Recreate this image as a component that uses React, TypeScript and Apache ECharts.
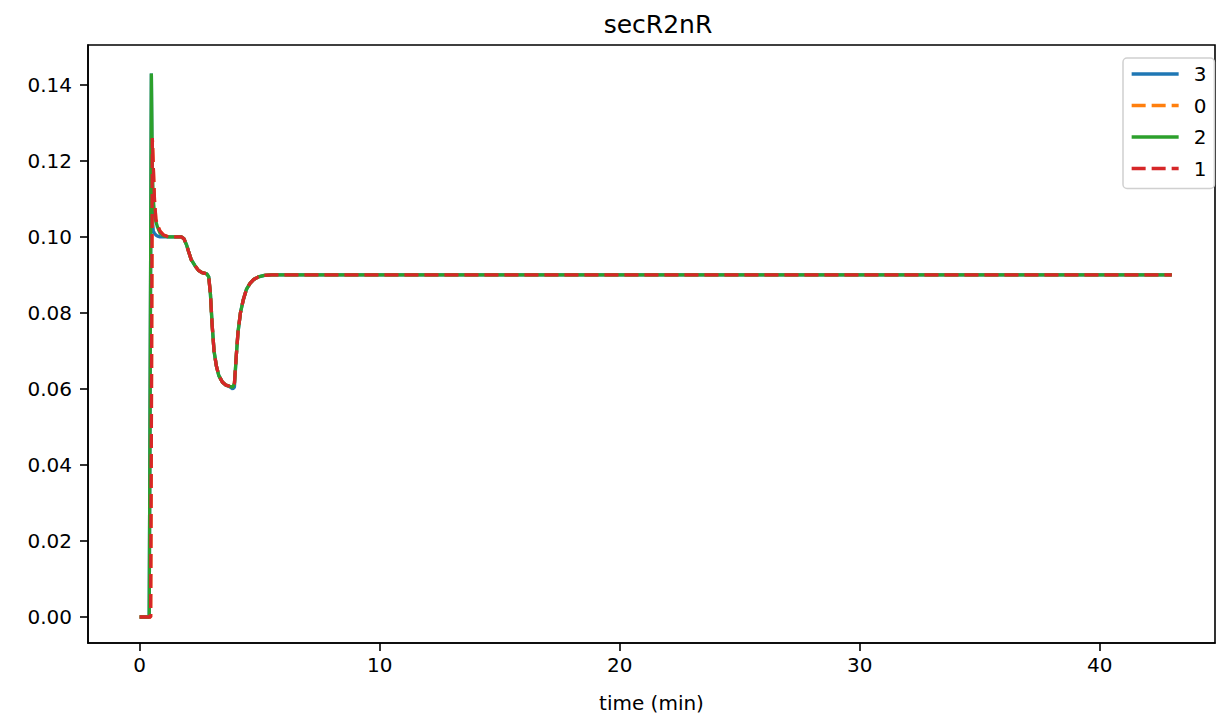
import React, { useEffect, useRef } from "react";
import * as echarts from "echarts";

const seriesNames = ["3", "0", "2", "1"];
const colors = ["#1f77b4", "#ff7f0e", "#2ca02c", "#d62728"];
const dashed = [false, true, false, true];

const time = [0, 0.40, 0.46, 0.49, 0.53, 0.57, 0.62, 0.68, 0.75, 0.85, 1.0, 1.2, 1.5, 1.75, 1.85, 1.95, 2.05, 2.15, 2.3, 2.45, 2.6, 2.8, 2.88, 2.95, 3.02, 3.1, 3.2, 3.3, 3.45, 3.6, 3.75, 3.88, 3.95, 4.03, 4.1, 4.2, 4.32, 4.45, 4.6, 4.75, 4.95, 5.2, 5.5, 43];

const s3 = [0, 0, 0.095, 0.143, 0.105, 0.1015, 0.101, 0.1005, 0.1002, 0.1, 0.1, 0.1, 0.1, 0.1, 0.0995, 0.098, 0.096, 0.094, 0.0925, 0.0912, 0.0906, 0.0903, 0.0895, 0.085, 0.077, 0.07, 0.066, 0.0635, 0.0618, 0.061, 0.0606, 0.06, 0.0605, 0.069, 0.075, 0.08, 0.0835, 0.0862, 0.0878, 0.0888, 0.0895, 0.0899, 0.09, 0.09];
const s2 = [0, 0, 0.095, 0.143, 0.118, 0.11, 0.106, 0.104, 0.1025, 0.101, 0.1003, 0.1, 0.1, 0.1, 0.0995, 0.098, 0.096, 0.094, 0.0925, 0.0912, 0.0906, 0.0903, 0.0895, 0.085, 0.077, 0.07, 0.066, 0.0635, 0.0618, 0.061, 0.0607, 0.0605, 0.0615, 0.069, 0.075, 0.08, 0.0835, 0.0862, 0.0878, 0.0888, 0.0895, 0.0899, 0.09, 0.09];
const s1 = [0, 0, 0, 0.05, 0.126, 0.1185, 0.1097, 0.1045, 0.103, 0.1015, 0.1005, 0.1, 0.1, 0.1, 0.0995, 0.098, 0.096, 0.094, 0.0925, 0.0912, 0.0906, 0.0903, 0.0895, 0.085, 0.077, 0.07, 0.066, 0.0635, 0.0618, 0.061, 0.0607, 0.0605, 0.0615, 0.069, 0.075, 0.08, 0.0835, 0.0862, 0.0878, 0.0888, 0.0895, 0.0899, 0.09, 0.09];
const s0 = [0, 0, 0, 0.05, 0.126, 0.1185, 0.1097, 0.1045, 0.103, 0.1015, 0.1005, 0.1, 0.1, 0.1, 0.0995, 0.098, 0.096, 0.094, 0.0925, 0.0912, 0.0906, 0.0903, 0.0895, 0.085, 0.077, 0.07, 0.066, 0.0635, 0.0618, 0.061, 0.0607, 0.0605, 0.0615, 0.069, 0.075, 0.08, 0.0835, 0.0862, 0.0878, 0.0888, 0.0895, 0.0899, 0.09, 0.09];
const seriesValues = [s3, s0, s2, s1];

const xTicks = [0, 10, 20, 30, 40];
const yTicks = [0, 0.02, 0.04, 0.06, 0.08, 0.1, 0.12, 0.14];

const FONT = "DejaVu Sans";
const LW = 3.3;
const DASH = [14, 6];

export default function App() {
  const ref = useRef<HTMLDivElement>(null);
  useEffect(() => {
    const chart = echarts.init(ref.current!, null, { renderer: "svg" });
    chart.setOption({
      animation: false,
      backgroundColor: "#fff",
      textStyle: { fontFamily: FONT },
      title: {
        text: "secR2nR",
        left: 653,
        textAlign: "center",
        top: 7,
        textStyle: { fontFamily: FONT, fontSize: 25, fontWeight: "normal", color: "#000" },
      },
      grid: {
        left: 88,
        right: 2,
        top: 45,
        bottom: 76,
        show: true,
        borderColor: "#000",
        borderWidth: 1.6,
        backgroundColor: "transparent",
      },
      legend: {
        orient: "vertical",
        left: 1123,
        top: 58,
        data: seriesNames,
        itemWidth: 47,
        itemHeight: 14,
        itemGap: 11.5,
        padding: [6, 8, 10, 7],
        borderColor: "#d0d0d0",
        borderWidth: 1.5,
        borderRadius: 4,
        backgroundColor: "rgba(255,255,255,0.8)",
        itemStyle: { opacity: 0 },
        lineStyle: { width: LW },
        textStyle: { fontFamily: FONT, fontSize: 20, color: "#000", lineHeight: 20, padding: [0, 0, 0, 10] },
      },
      xAxis: {
        type: "value",
        min: -2.15,
        max: 44.8,
        name: "time (min)",
        nameLocation: "middle",
        nameGap: 50,
        nameTextStyle: { fontFamily: FONT, fontSize: 20, color: "#000" },
        splitLine: { show: false },
        axisLine: { show: true, onZero: false, lineStyle: { color: "#000", width: 1.6 } },
        axisTick: { show: true, customValues: xTicks, length: 8, lineStyle: { color: "#000", width: 1.6 } },
        axisLabel: { customValues: xTicks, fontFamily: FONT, fontSize: 20, color: "#000", margin: 12 },
      },
      yAxis: {
        type: "value",
        min: -0.00684,
        max: 0.1505,
        splitLine: { show: false },
        axisLine: { show: true, onZero: false, lineStyle: { color: "#000", width: 1.6 } },
        axisTick: { show: true, customValues: yTicks, length: 8, lineStyle: { color: "#000", width: 1.6 } },
        axisLabel: {
          customValues: yTicks,
          fontFamily: FONT,
          fontSize: 20,
          color: "#000",
          margin: 16,
          formatter: (v: number) => v.toFixed(2),
        },
      },
      series: seriesNames.map((name, i) => ({
        name,
        type: "line",
        showSymbol: false,
        symbol: "none",
        color: colors[i],
        data: time.map((t, j) => [t, seriesValues[i][j]]),
        lineStyle: {
          color: colors[i],
          width: LW,
          type: dashed[i] ? DASH : "solid",
        },
        emphasis: { disabled: true },
        z: 2 + i,
      })),
    });
    return () => chart.dispose();
  }, []);
  return <div ref={ref} style={{ position: "fixed", left: 0, top: 0, width: 1217, height: 719 }} />;
}
